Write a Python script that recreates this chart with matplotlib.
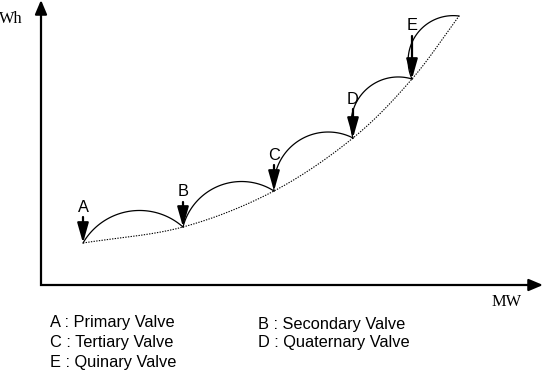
import numpy as np
import matplotlib
matplotlib.use("Agg")
import matplotlib.pyplot as plt

# ---- data (units: MW along x, Wh along y; arbitrary scale) ----
valve_names = ["A", "B", "C", "D", "E"]
valve_x = [42, 142, 233, 312, 371]
valve_y = [42, 58, 94, 147, 206]
end_x = 418
end_y = 269
arc_sagitta = [24, 25, 28, 25, 23]
arrow_len = [26, 25, 26, 29, 43]
legend_entries = ["A : Primary Valve", "B : Secondary Valve",
                  "C : Tertiary Valve", "D : Quaternary Valve",
                  "E : Quinary Valve"]
x_label = "MW"
y_label = "Wh"

fig = plt.figure(figsize=(5.48, 3.84), dpi=100)
ax = fig.add_axes([0, 0, 1, 1])
ax.set_xlim(-41, 507)
ax.set_ylim(-99, 285)
ax.axis("off")

# ---- axes with arrows ----
ax.plot([0, 0, 490], [275, 0, 0], color="black", lw=1.6,
        solid_joinstyle="miter", solid_capstyle="butt")
ax.annotate("", xy=(0, 285), xytext=(0, 270),
            arrowprops=dict(arrowstyle="-|>,head_length=0.85,head_width=0.36",
                            lw=1.6, color="black", shrinkA=0, shrinkB=0,
                            mutation_scale=10))
ax.annotate("", xy=(502, 0), xytext=(487, 0),
            arrowprops=dict(arrowstyle="-|>,head_length=0.85,head_width=0.36",
                            lw=1.6, color="black", shrinkA=0, shrinkB=0,
                            mutation_scale=10))

# ---- dotted locus of valve points (Catmull-Rom through the points) ----
px = np.array(valve_x + [end_x], dtype=float)
py = np.array(valve_y + [end_y], dtype=float)
P = np.column_stack([px, py])
Pext = np.vstack([2 * P[0] - P[1], P, 2 * P[-1] - P[-2]])
curve = []
t = np.linspace(0, 1, 40)
for i in range(1, len(Pext) - 2):
    p0, p1, p2, p3 = Pext[i - 1], Pext[i], Pext[i + 1], Pext[i + 2]
    seg = 0.5 * ((2 * p1)[None, :] + (-p0 + p2)[None, :] * t[:, None]
                 + (2 * p0 - 5 * p1 + 4 * p2 - p3)[None, :] * t[:, None] ** 2
                 + (-p0 + 3 * p1 - 3 * p2 + p3)[None, :] * t[:, None] ** 3)
    curve.append(seg)
curve = np.vstack(curve)
ax.plot(curve[:, 0], curve[:, 1], color="black", lw=0.8,
        linestyle=(0, (1.2, 1.2)))

# ---- circular arcs between consecutive valve points ----
for i in range(len(px) - 1):
    p0 = P[i]
    p1 = P[i + 1]
    d = p1 - p0
    c = np.hypot(*d)
    s = arc_sagitta[i]
    R = (c ** 2 / 4 + s ** 2) / (2 * s)
    n = np.array([-d[1], d[0]]) / c
    mid = (p0 + p1) / 2
    center = mid - n * (R - s)
    a0 = np.arctan2(*(p0 - center)[::-1])
    a1 = np.arctan2(*(p1 - center)[::-1])
    if a0 < a1:
        a0 += 2 * np.pi
    ang = np.linspace(a0, a1, 100)
    ax.plot(center[0] + R * np.cos(ang), center[1] + R * np.sin(ang),
            color="black", lw=0.9)

# ---- valve arrows and letters ----
for name, x, y, L in zip(valve_names, valve_x, valve_y, arrow_len):
    ax.annotate("", xy=(x, y), xytext=(x, y + L),
                arrowprops=dict(arrowstyle="-|>,head_length=1.2,head_width=0.34",
                                lw=1.6, color="black", shrinkA=0, shrinkB=0,
                                mutation_scale=10))
    ax.text(x, y + L + 10, name, ha="center", va="center",
            fontsize=11.8, family="Liberation Sans")

# ---- axis labels ----
ax.text(466, -17, x_label, ha="center", va="center", fontsize=11.8,
        family="Liberation Serif")
ax.text(-18, 266, y_label, ha="right", va="center", fontsize=11.8,
        family="Liberation Serif")

# ---- legend text ----
leg_pos = [(9, -37), (217, -39), (9, -57), (217, -58), (9, -78)]
for txt, (lx, ly) in zip(legend_entries, leg_pos):
    ax.text(lx, ly, txt, ha="left", va="center", fontsize=11.8,
            family="Liberation Sans")

fig.savefig("out.png", dpi=100)
